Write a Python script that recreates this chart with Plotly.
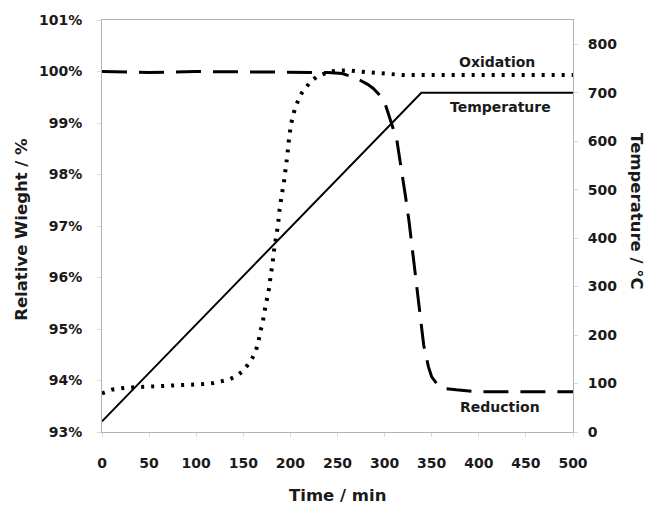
import plotly.graph_objects as go

# Time axis (min) and relative weight (%) for each TGA run
ox_time = [0, 10, 25, 50, 75, 97, 107, 118, 127, 135, 143, 150, 155, 160, 163.5,
           166, 168, 170.5, 172, 174, 176, 178, 179, 181, 182, 184, 185.5, 187,
           188, 190, 191, 193, 194.5, 195.5, 197, 198, 199, 200.5, 202.5, 205,
           208.5, 212, 216.5, 221.5, 228, 235, 242, 251, 263, 274, 285, 295,
           306, 320, 360, 400, 450, 500]
ox_weight = [93.75, 93.82, 93.86, 93.88, 93.89, 93.91, 93.93, 93.95, 93.98, 94.02,
             94.09, 94.19, 94.31, 94.45, 94.59, 94.75, 94.95, 95.11, 95.29, 95.48,
             95.67, 95.85, 96.05, 96.24, 96.45, 96.65, 96.84, 97.04, 97.25, 97.44,
             97.63, 97.83, 98.02, 98.22, 98.41, 98.61, 98.80, 98.96, 99.12, 99.29,
             99.45, 99.58, 99.69, 99.80, 99.90, 99.95, 100.00, 100.02, 100.02,
             100.00, 99.98, 99.97, 99.95, 99.93, 99.93, 99.93, 99.93, 99.93]

red_time = [0, 50, 100, 150, 200, 240, 255, 265, 274, 282, 288, 293, 297, 301,
            304, 309, 313, 316.5, 320.5, 322.5, 326, 327.5, 330.5, 332.5, 335,
            336.5, 340, 341.5, 346.5, 350, 355, 362, 376, 400, 450, 500]
red_weight = [100.00, 99.98, 100.00, 99.99, 99.99, 99.98, 99.96, 99.90, 99.83,
              99.75, 99.67, 99.58, 99.50, 99.35, 99.19, 98.92, 98.67, 98.25,
              97.80, 97.54, 97.08, 96.85, 96.37, 96.11, 95.66, 95.38, 94.95,
              94.69, 94.27, 94.07, 93.95, 93.85, 93.82, 93.78, 93.78, 93.78]

# Furnace programme: ramp then hold
temp_time = [0, 339, 500]
temp_c = [22, 700, 700]

weight_ticks = [93, 94, 95, 96, 97, 98, 99, 100, 101]
weight_tick_text = ["93%", "94%", "95%", "96%", "97%", "98%", "99%", "100%", "101%"]
temp_ticks = [0, 100, 200, 300, 400, 500, 600, 700, 800]
time_ticks = [0, 50, 100, 150, 200, 250, 300, 350, 400, 450, 500]

FONT = "DejaVu Sans"
tick_font = dict(family=FONT, size=14, color="#1a1a1a", weight="bold")

fig = go.Figure()
fig.add_trace(go.Scatter(x=ox_time, y=ox_weight, mode="lines", name="Oxidation",
                         line=dict(color="black", width=4, dash="3px,7px")))
fig.add_trace(go.Scatter(x=red_time, y=red_weight, mode="lines", name="Reduction",
                         line=dict(color="black", width=3, dash="25px,12px")))
fig.add_trace(go.Scatter(x=temp_time, y=temp_c, mode="lines", name="Temperature",
                         yaxis="y2", line=dict(color="black", width=2)))

axis_line = "#b3b3b3"
fig.update_layout(
    width=647, height=507,
    margin=dict(l=102, r=74, t=20, b=75),
    paper_bgcolor="white", plot_bgcolor="white",
    showlegend=False,
    xaxis=dict(range=[0, 500], tickvals=time_ticks, showgrid=False, zeroline=False,
               showline=True, mirror=True, linecolor=axis_line, linewidth=1,
               ticks="outside", ticklen=4, tickcolor="#d9d9d9",
               tickfont=tick_font, ticklabelstandoff=14),
    yaxis=dict(range=[93, 101], tickvals=weight_ticks, ticktext=weight_tick_text,
               showgrid=False, zeroline=False,
               showline=True, mirror=True, linecolor=axis_line, linewidth=1,
               ticks="outside", ticklen=4, tickcolor="#d9d9d9",
               tickfont=tick_font, ticklabelstandoff=12),
    yaxis2=dict(range=[0, 850], tickvals=temp_ticks, overlaying="y", side="right",
                showgrid=False, zeroline=False, showline=False,
                ticks="outside", ticklen=4, tickcolor="#d9d9d9",
                tickfont=tick_font, ticklabelstandoff=7),
)

label_font = dict(family=FONT, size=14, color="#1a1a1a", weight="bold")
title_font = dict(family=FONT, size=16.5, color="#1a1a1a", weight="bold")

annotations = [
    dict(x=419, y=100.18, xref="x", yref="y", text="Oxidation", showarrow=False,
         font=label_font),
    dict(x=422.5, y=99.31, xref="x", yref="y", text="Temperature", showarrow=False,
         font=label_font),
    dict(x=422.5, y=93.49, xref="x", yref="y", text="Reduction", showarrow=False,
         font=label_font),
    dict(x=-0.17, y=0.493, xref="paper", yref="paper", text="Relative Wieght / %",
         textangle=-90, showarrow=False, font=title_font,
         xanchor="center", yanchor="middle"),
    dict(x=1.136, y=0.536, xref="paper", yref="paper", text="Temperature / °C",
         textangle=90, showarrow=False, font=title_font,
         xanchor="center", yanchor="middle"),
    dict(x=0.5, y=-0.155, xref="paper", yref="paper", text="Time / min",
         showarrow=False, font=title_font, xanchor="center", yanchor="middle"),
]
fig.update_layout(annotations=annotations)

fig.write_html("out.html")
